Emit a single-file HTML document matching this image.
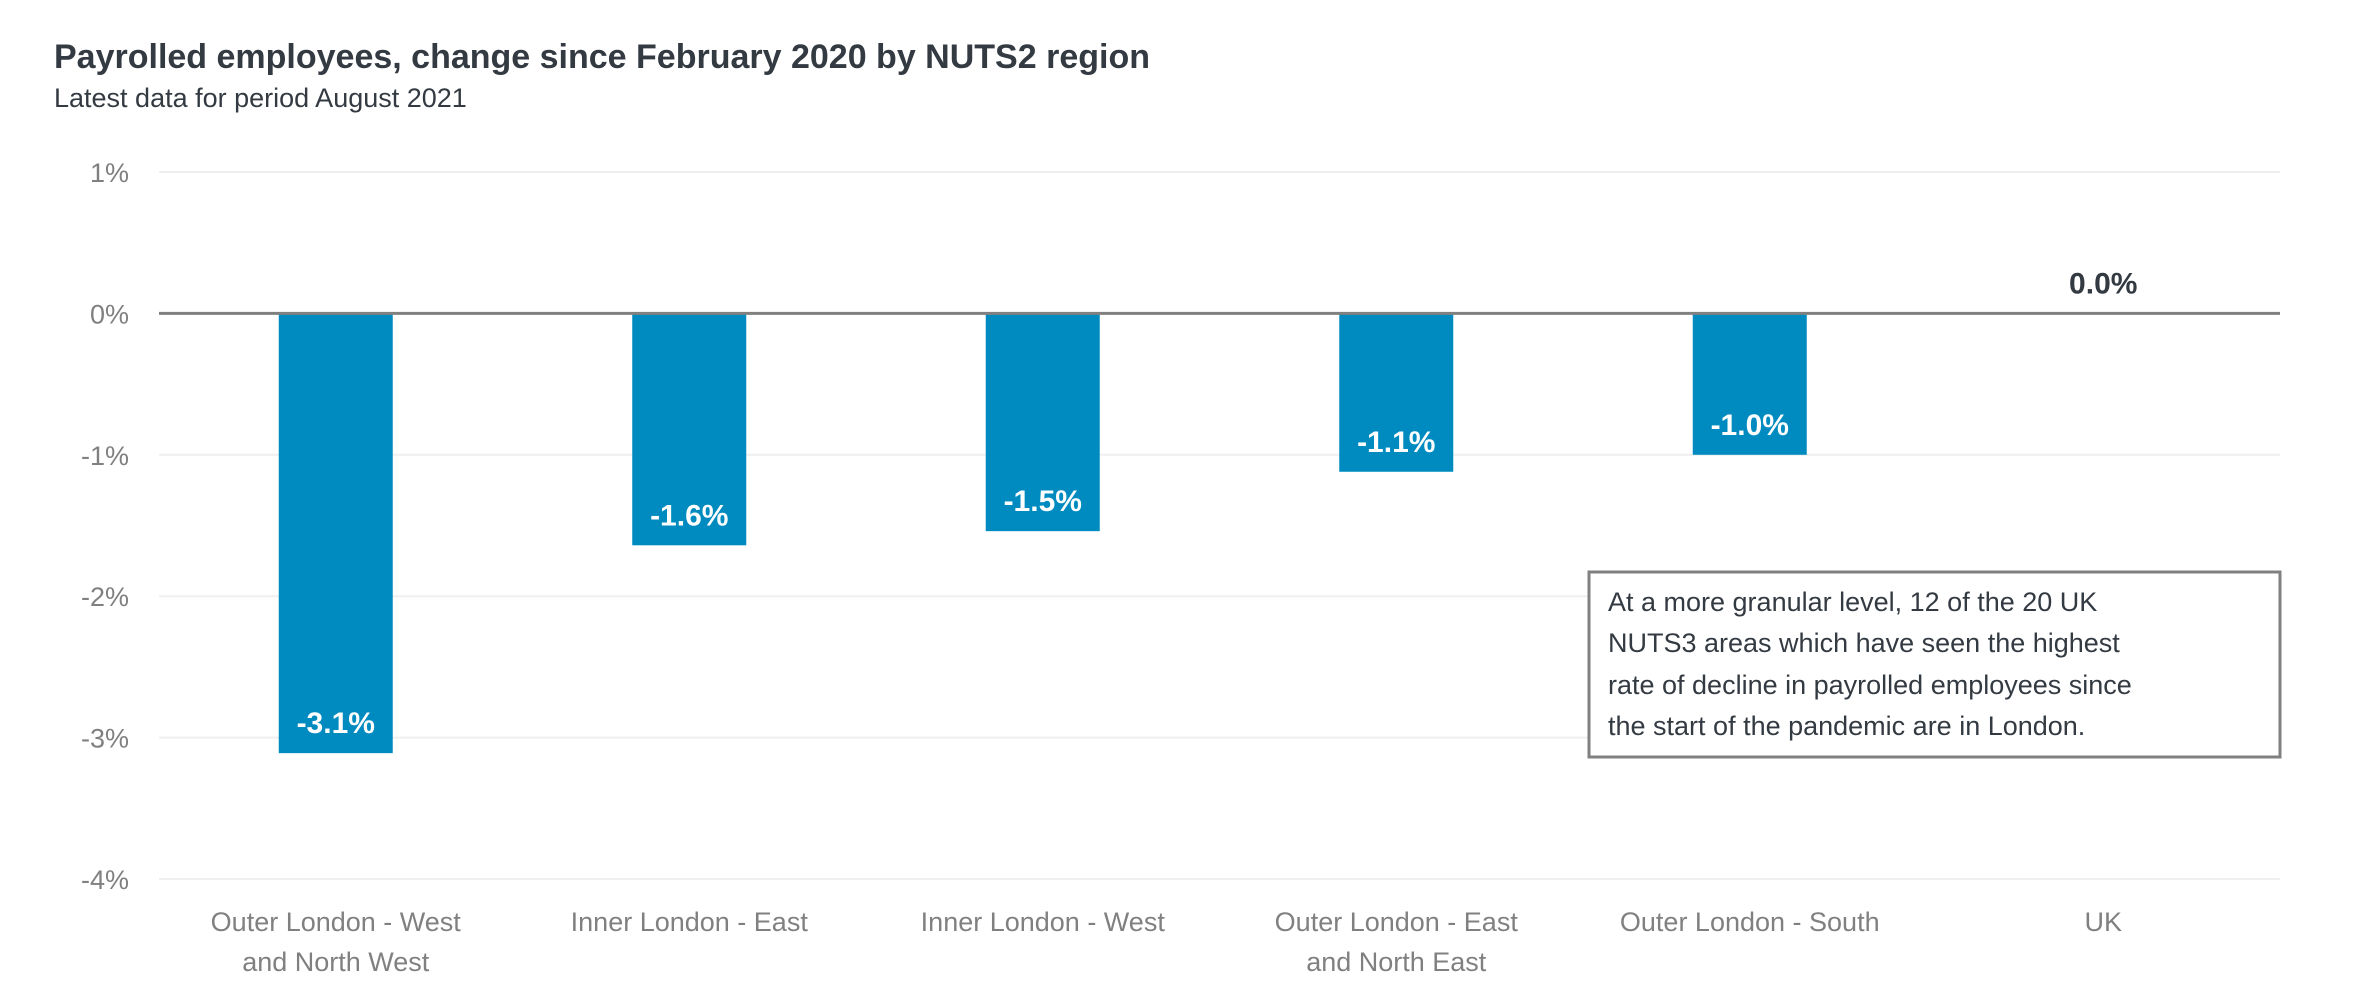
<!DOCTYPE html>
<html><head><meta charset="utf-8"><style>
body{margin:0;background:#fff;}
svg{display:block;font-family:"Liberation Sans",Arial,sans-serif;}
</style></head><body>
<svg width="2361" height="981" viewBox="0 0 2361 981">
<text x="54" y="68" font-size="34" font-weight="bold" fill="#333a42">Payrolled employees, change since February 2020 by NUTS2 region</text>
<text x="54" y="107" font-size="27" fill="#333a42">Latest data for period August 2021</text>
<g id="grid"></g>
<g id="bars"></g>
<g id="xlabels"></g>
<g>
<rect x="1589" y="572" width="691" height="185" fill="#fff" stroke="#808080" stroke-width="3"/>
<text font-size="27" fill="#333a42">
<tspan x="1608" y="611">At a more granular level, 12 of the 20 UK</tspan>
<tspan x="1608" y="652">NUTS3 areas which have seen the highest</tspan>
<tspan x="1608" y="694">rate of decline in payrolled employees since</tspan>
<tspan x="1608" y="735">the start of the pandemic are in London.</tspan>
</text>
</g>
</svg>
<script>
const categories=[["Outer London - West","and North West"],["Inner London - East"],["Inner London - West"],["Outer London - East","and North East"],["Outer London - South"],["UK"]];
const values=[-3.11,-1.64,-1.54,-1.12,-1.0,0.0];
const valueLabels=["-3.1%","-1.6%","-1.5%","-1.1%","-1.0%","0.0%"];
const yTicks=[1,0,-1,-2,-3,-4];
const yTickLabels=["1%","0%","-1%","-2%","-3%","-4%"];

const NS="http://www.w3.org/2000/svg";
const x0=159,x1=2280,yTop=172,yBot=879,yMax=1,yMin=-4;
const y=v=>yTop+(yMax-v)/(yMax-yMin)*(yBot-yTop);
const band=(x1-x0)/categories.length;
const xc=i=>x0+band*(i+0.5);
const barW=114;
function mk(tag,attrs,parent){const e=document.createElementNS(NS,tag);for(const k in attrs)e.setAttribute(k,attrs[k]);parent.appendChild(e);return e;}
const grid=document.getElementById('grid'),bars=document.getElementById('bars'),xl=document.getElementById('xlabels');
yTicks.forEach((t,i)=>{
  if(t!==0){const l=mk('line',{x1:x0,x2:x1,y1:y(t),y2:y(t),stroke:'#efefef','stroke-width':2},grid);
  
  }
  const tx=mk('text',{x:129,y:y(t)+10,'font-size':27,fill:'#808080','text-anchor':'end'},grid);
  tx.textContent=yTickLabels[i];
  
  
});
values.forEach((v,i)=>{
  const top=Math.min(y(0),y(v)),h=Math.abs(y(v)-y(0));
  if(h>0){const r=mk('rect',{x:xc(i)-barW/2,y:top,width:barW,height:h,fill:'#008bc0'},bars);
  
  }
  let ly,col;
  if(h>45){ly=y(v)-20;col='#fff';}else{ly=y(0)-20;col='#333a42';}
  const t=mk('text',{x:xc(i),y:ly,'font-size':30,'font-weight':'bold',fill:col,'text-anchor':'middle'},bars);
  t.textContent=valueLabels[i];
  
  
  categories[i].forEach((ln,j)=>{
    const c=mk('text',{x:xc(i),y:931+j*40,'font-size':27,fill:'#808080','text-anchor':'middle'},xl);
    c.textContent=ln;
    
    
  });
});
const z=mk('line',{x1:x0,x2:x1,y1:y(0),y2:y(0),stroke:'#808080','stroke-width':3},bars);


</script>
</body></html>
